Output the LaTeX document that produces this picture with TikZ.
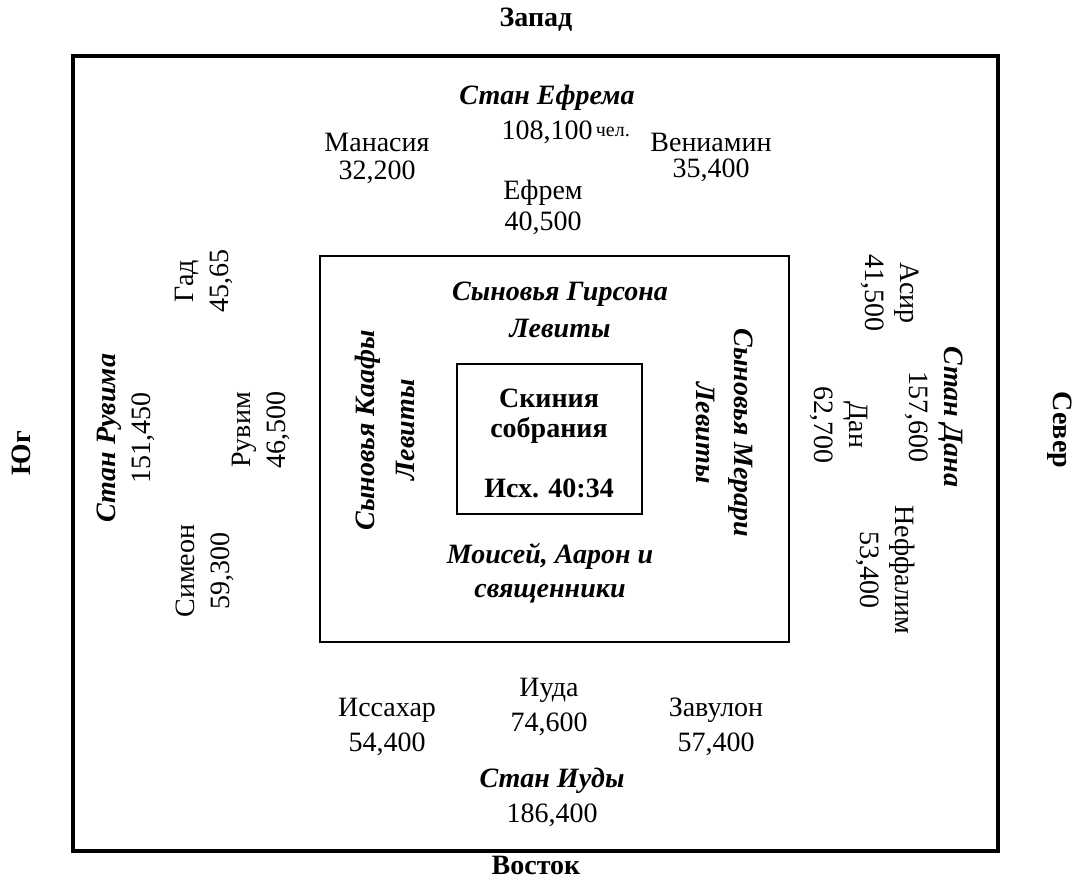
\documentclass[tikz,border=0pt]{standalone}
\usepackage{fontspec}
\setmainfont{Liberation Serif}
\newcommand\stan[1]{{\bfseries\itshape #1}}
\tikzset{
  tribe/.style={align=center,inner sep=0pt,font=\fontsize{14}{#1}\selectfont},
  tribe/.default=17.5pt,
  levites/.style={align=center,inner sep=0pt,font=\fontsize{14}{#1}\selectfont\bfseries\itshape},
  levites/.default=19pt,
  compass/.style={inner sep=0pt,font=\fontsize{14}{17}\selectfont\bfseries}
}

\begin{document}
\begin{tikzpicture}[x=0.5pt,y=-0.5pt]
  \useasboundingbox (0,0) rectangle (1078,880);

  % camp, levites and tabernacle
  \draw[line width=1.6pt] (73,56) rectangle (998,851);
  \draw[line width=1pt] (320,256) rectangle (789,642);
  \draw[line width=1pt] (457,364) rectangle (642,514);
  \node(tent)[align=center,inner sep=0pt,font=\fontsize{14}{15}\selectfont\bfseries]
     at (549,443) {Скиния\\собрания\\[15pt]Исх. 40:34};

  \node(west)[compass] at (536,20) {Запад};
  \node(east)[compass] at (536,865) {Восток};
  \node(south)[compass,rotate=90] at (21,453) {Юг};
  \node(north)[compass,rotate=-90] at (1060,430) {Север};

  % west
  \node(ephraimcamp)[tribe] at (547,114)
     {\stan{Стан Ефрема}\\108,100\rlap{\raisebox{1.5pt}{\fontsize{10}{10}\selectfont\,чел.}}};
  \node(manasseh)[tribe=14pt] at (377,158) {Манасия\\32,200};
  \node(ephraim)[tribe=15.5pt] at (543,207) {Ефрем\\40,500};
  \node(benjamin)[tribe=13pt] at (711,157) {Вениамин\\35,400};

  % east
  \node(issachar)[tribe] at (387,727) {Иссахар\\54,400};
  \node(judah)[tribe] at (549,707) {Иуда\\74,600};
  \node(zebulun)[tribe] at (716,727) {Завулон\\57,400};
  \node(judahcamp)[tribe] at (552,797) {\stan{Стан Иуды}\\186,400};

  % loop over the south nodes
  \foreach \n/\x/\y/\t in {reubencamp/126/438/{\stan{Стан Рувима}\\151,450},
      gad/204/281/{Гад\\45,65}, reuben/261/430/{Рувим\\46,500},
      simeon/205/571/{Симеон\\59,300}} {
    \node(\n)[tribe,rotate=90] at (\x,\y) {\t};
  }

  % loop over the north nodes
  \foreach \n/\x/\y/\t in {dancamp/934/417/{\stan{Стан Дана}\\157,600},
      asher/890/293/{Асир\\41,500}, dan/839/425/{Дан\\62,700},
      naphtali/886/570/{Неффалим\\53,400}} {
    \node(\n)[tribe,rotate=-90] at (\x,\y) {\t};
  }

  % levites round the tabernacle
  \node(gershon)[levites=18.5pt] at (560,310) {Сыновья Гирсона\\Левиты};
  \node(kohath)[levites=20pt,rotate=90] at (385,430) {Сыновья Каафы\\Левиты};
  \node(merari)[levites,rotate=-90] at (725,433) {Сыновья Мерари\\Левиты};
  \node(priests)[levites=17pt] at (550,573) {Моисей, Аарон и\\священники};
\end{tikzpicture}
\end{document}
